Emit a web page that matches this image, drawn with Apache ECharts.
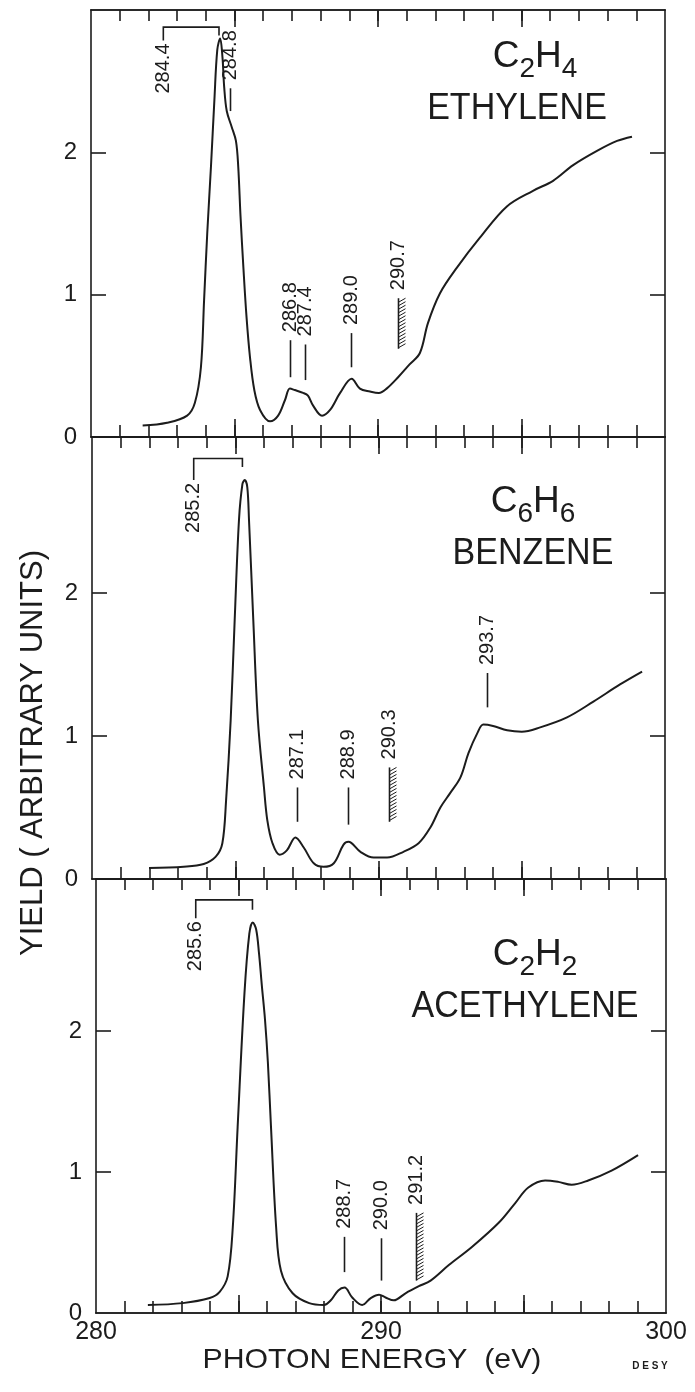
<!DOCTYPE html>
<html><head><meta charset="utf-8">
<script src="https://cdn.jsdelivr.net/npm/echarts@6/dist/echarts.min.js"></script>
<style>html,body{margin:0;padding:0;background:#fff}#c{width:695px;height:1392px}</style>
</head><body><div id="c"></div>
<script>
// ---------- DATA ----------
// C2H4 ethylene
const ethE = [281.8, 282.65, 283.35, 283.62, 283.83, 283.94, 284.05, 284.18, 284.30, 284.40, 284.5, 284.58, 284.64, 284.73, 284.9, 285.05, 285.13, 285.21, 285.31, 285.42, 285.54, 285.69, 285.89, 286.24, 286.52, 286.76, 286.93, 287.1, 287.39, 287.56, 287.74, 288.05, 288.33, 288.68, 289.08, 289.37, 289.72, 290.03, 290.3, 290.7, 291.1, 291.46, 291.74, 292.16, 292.75, 293.55, 294.49, 295.4, 296.1, 296.8, 297.63, 298.33, 298.85];
const ethY = [0.08, 0.10, 0.15, 0.24, 0.49, 0.96, 1.43, 1.90, 2.37, 2.72, 2.80, 2.67, 2.46, 2.29, 2.18, 2.08, 1.90, 1.55, 1.19, 0.84, 0.56, 0.33, 0.19, 0.11, 0.15, 0.26, 0.34, 0.33, 0.31, 0.29, 0.22, 0.15, 0.19, 0.31, 0.41, 0.34, 0.32, 0.31, 0.34, 0.42, 0.51, 0.59, 0.80, 1.01, 1.19, 1.40, 1.62, 1.73, 1.80, 1.91, 2.01, 2.08, 2.11];
const ethMarkText = ['284.8', '286.8', '287.4', '289.0', '290.7'];
const ethMarkE = [284.85, 286.93, 287.46, 289.07, 290.7];
const ethMarkLo = [2.29, 0.42, 0.40, 0.49, 0.62];
const ethMarkHi = [2.45, 0.68, 0.65, 0.73, 0.975];
const ethMarkKind = ['line', 'line', 'line', 'line', 'hatch'];
const ethBracketText = ['284.4'];
const ethBracket = [[282.52, 284.46, 2.88, 2.786, 2.82]];

// C6H6 benzene
const benE = [281.99, 283.2, 283.9, 284.32, 284.55, 284.68, 284.84, 284.98, 285.13, 285.25, 285.33, 285.42, 285.48, 285.63, 285.79, 286.0, 286.12, 286.3, 286.55, 286.8, 287.1, 287.39, 287.74, 288.08, 288.44, 288.78, 288.95, 289.37, 289.83, 290.3, 290.87, 291.4, 291.81, 292.16, 292.5, 292.86, 293.14, 293.45, 293.66, 294.0, 294.49, 295.0, 295.64, 296.58, 297.5, 298.43, 299.2];
const benY = [0.077, 0.086, 0.105, 0.156, 0.25, 0.55, 1.11, 1.81, 2.51, 2.76, 2.79, 2.74, 2.51, 1.81, 1.11, 0.645, 0.41, 0.25, 0.17, 0.20, 0.29, 0.22, 0.11, 0.085, 0.11, 0.24, 0.26, 0.19, 0.15, 0.15, 0.19, 0.25, 0.36, 0.50, 0.60, 0.71, 0.88, 1.02, 1.08, 1.07, 1.04, 1.03, 1.06, 1.13, 1.24, 1.36, 1.45];
const benMarkText = ['287.1', '288.9', '290.3', '293.7'];
const benMarkE = [287.17, 288.95, 290.38, 293.8];
const benMarkLo = [0.40, 0.38, 0.40, 1.20];
const benMarkHi = [0.64, 0.64, 0.78, 1.44];
const benMarkKind = ['line', 'line', 'hatch', 'line'];
const benBracketText = ['285.2'];
const benBracket = [[283.55, 285.25, 2.94, 2.79, 2.88]];

// C2H2 acethylene
const aceE = [281.82, 283.04, 283.99, 284.34, 284.62, 284.8, 284.97, 285.21, 285.38, 285.5, 285.62, 285.72, 285.82, 285.93, 286.03, 286.14, 286.32, 286.49, 286.9, 287.48, 288.0, 288.24, 288.5, 288.72, 288.99, 289.34, 289.64, 289.93, 290.16, 290.45, 290.86, 291.33, 291.74, 292.38, 293.2, 294.13, 294.71, 295.17, 295.76, 296.22, 296.69, 297.27, 298.09, 299.02];
const aceY = [0.057, 0.07, 0.106, 0.15, 0.26, 0.61, 1.32, 2.27, 2.69, 2.77, 2.72, 2.55, 2.32, 2.08, 1.78, 1.32, 0.61, 0.30, 0.14, 0.07, 0.057, 0.09, 0.16, 0.18, 0.11, 0.057, 0.106, 0.13, 0.11, 0.09, 0.14, 0.19, 0.23, 0.34, 0.47, 0.64, 0.78, 0.89, 0.94, 0.93, 0.91, 0.94, 1.01, 1.12];
const aceMarkText = ['288.7', '290.0', '291.2'];
const aceMarkE = [288.7, 290.0, 291.22];
const aceMarkLo = [0.29, 0.23, 0.23];
const aceMarkHi = [0.54, 0.53, 0.71];
const aceMarkKind = ['line', 'line', 'hatch'];
const aceBracketText = ['285.6'];
const aceBracket = [[283.5, 285.49, 2.93, 2.80, 2.86]];

// axis ticks / labels
const xMinorTicks = [281, 282, 283, 284, 285, 286, 287, 288, 289, 290, 291, 292, 293, 294, 295, 296, 297, 298, 299];
const xMajorTicks = [285, 290, 295];
const xTickLabels = [280, 290, 300];
const yTicks = [1, 2];
const yTickLabels = [0, 1, 2];
const yMax = [3, 3.09, 3.078];

// ---------- LAYOUT / STYLE ----------
const FONT = '"Liberation Sans", Arial, sans-serif';
const INK = '#1c1c1c';
const grids = [
  {left: 91, top: 10, width: 574, height: 427},
  {left: 92, top: 437, width: 573, height: 442},
  {left: 96, top: 879, width: 570, height: 434}
];

const xAxis = [], yAxis = [];
grids.forEach((g, gi) => {
  ['bottom', 'top'].forEach(pos => {
    [false, true].forEach(major => {
      xAxis.push({
        type: 'value', gridIndex: gi, position: pos, min: 280, max: 300,
        axisLine: {show: true, onZero: false, lineStyle: {color: INK, width: 1.6}},
        axisTick: {show: true, inside: true, length: major ? (pos === 'bottom' ? 18 : 17) : (pos === 'bottom' ? 12 : 11),
          customValues: major ? xMajorTicks : xMinorTicks, lineStyle: {color: INK, width: 1.6}},
        axisLabel: {show: gi === 2 && pos === 'bottom' && !major, customValues: xTickLabels,
          fontSize: 25, color: INK, fontFamily: FONT, margin: 7},
        splitLine: {show: false}
      });
    });
  });
  ['left', 'right'].forEach(pos => {
    yAxis.push({
      type: 'value', gridIndex: gi, position: pos, min: 0, max: yMax[gi],
      axisLine: {show: true, onZero: false, lineStyle: {color: INK, width: 1.6}},
      axisTick: {show: true, inside: true, length: 15, customValues: yTicks, lineStyle: {color: INK, width: 1.6}},
      axisLabel: {show: pos === 'left', customValues: yTickLabels, fontSize: 24, color: INK, fontFamily: FONT, margin: 14},
      splitLine: {show: false}
    });
  });
});

function markRenderer(texts, kinds) {
  return function (params, api) {
    const i = api.value(3);
    const top = api.coord([api.value(0), api.value(2)]);
    const bot = api.coord([api.value(0), api.value(1)]);
    const x = Math.round(top[0]) + 0.5;
    const children = [{type: 'line', shape: {x1: x, y1: top[1], x2: x, y2: bot[1]}, style: {stroke: INK, lineWidth: 1.6}}];
    if (kinds[i] === 'hatch') {
      for (let y = top[1] + 4; y <= bot[1] + 0.5; y += 3.5) {
        children.push({type: 'line', shape: {x1: x, y1: y, x2: x + 7, y2: y - 4}, style: {stroke: INK, lineWidth: 1}});
      }
    }
    children.push({type: 'text', x: x, y: top[1] - 8, rotation: Math.PI / 2,
      style: {text: texts[i], fill: INK, font: '20px ' + FONT, textAlign: 'left', textVerticalAlign: 'middle'}});
    return {type: 'group', children};
  };
}
function bracketRenderer(texts) {
  return function (params, api) {
    const i = params.dataIndex;
    const a = api.coord([api.value(0), api.value(2)]);
    const b = api.coord([api.value(1), api.value(2)]);
    const c = api.coord([api.value(0), api.value(3)]);
    const d = api.coord([api.value(1), api.value(4)]);
    return {type: 'group', children: [
      {type: 'polyline', shape: {points: [c, a, b, d]}, style: {stroke: INK, lineWidth: 1.6, fill: null}},
      {type: 'text', x: c[0], y: c[1] + 3, rotation: Math.PI / 2,
        style: {text: texts[i], fill: INK, font: '20px ' + FONT, textAlign: 'right', textVerticalAlign: 'middle'}}
    ]};
  };
}

const panels = [
  [ethE, ethY, ethMarkText, ethMarkE, ethMarkLo, ethMarkHi, ethMarkKind, ethBracketText, ethBracket],
  [benE, benY, benMarkText, benMarkE, benMarkLo, benMarkHi, benMarkKind, benBracketText, benBracket],
  [aceE, aceY, aceMarkText, aceMarkE, aceMarkLo, aceMarkHi, aceMarkKind, aceBracketText, aceBracket]
];
const series = [];
panels.forEach((p, gi) => {
  const [E, Y, mt, me, mlo, mhi, mk, bt, br] = p;
  series.push({type: 'line', xAxisIndex: gi * 4, yAxisIndex: gi * 2, data: E.map((e, i) => [e, Y[i]]),
    showSymbol: false, smooth: 0.35, lineStyle: {color: INK, width: 2}, silent: true});
  series.push({type: 'custom', xAxisIndex: gi * 4, yAxisIndex: gi * 2, renderItem: markRenderer(mt, mk),
    data: me.map((e, i) => [e, mlo[i], mhi[i], i]), encode: {x: 0, y: [1, 2]}, silent: true});
  series.push({type: 'custom', xAxisIndex: gi * 4, yAxisIndex: gi * 2, renderItem: bracketRenderer(bt),
    data: br, encode: {x: [0, 1], y: [2, 3, 4]}, silent: true});
});

// chemical formula with lowered, large subscripts
const measureCtx = document.createElement('canvas').getContext('2d');
function textW(t, size) { measureCtx.font = size + 'px ' + FONT; return measureCtx.measureText(t).width; }
function formula(cx, cy, parts) {
  const MAIN = 37, SUB = 28, DROP = 12.5;
  let total = 0;
  parts.forEach((p, i) => { total += textW(p, i % 2 ? SUB : MAIN); });
  let x = cx - total / 2;
  const els = [];
  parts.forEach((p, i) => {
    const size = i % 2 ? SUB : MAIN;
    els.push({type: 'text', x: x, y: cy + (i % 2 ? DROP : 0),
      style: {text: p, fill: INK, font: size + 'px ' + FONT, textAlign: 'left', textVerticalAlign: 'middle'}});
    x += textW(p, size);
  });
  return els;
}
function word(x, y, t) {
  return {type: 'text', x: x, y: y, scaleX: 0.92, style: {text: t, fill: INK, font: '37px ' + FONT, textAlign: 'center', textVerticalAlign: 'middle'}};
}

const graphic = [].concat(
  formula(535, 57, ['C', '2', 'H', '4']),
  [word(517, 109, 'ETHYLENE')],
  formula(533, 502, ['C', '6', 'H', '6']),
  [word(533, 554, 'BENZENE')],
  formula(535, 955, ['C', '2', 'H', '2']),
  [word(525, 1007, 'ACETHYLENE')],
  [
    {type: 'text', x: 33, y: 753, rotation: Math.PI / 2, style: {text: 'YIELD ( ARBITRARY UNITS)', fill: INK, font: '31px ' + FONT, textAlign: 'center', textVerticalAlign: 'middle'}},
    {type: 'text', x: 372, y: 1360, scaleX: 1.08, style: {text: 'PHOTON ENERGY  (eV)', fill: INK, font: '28px ' + FONT, textAlign: 'center', textVerticalAlign: 'middle'}},
    {type: 'text', x: 650, y: 1366, style: {text: 'D E S Y', fill: INK, font: 'bold 10px ' + FONT, textAlign: 'center', textVerticalAlign: 'middle'}}
  ]
);

const chart = echarts.init(document.getElementById('c'), null, {renderer: 'canvas'});
chart.setOption({
  backgroundColor: '#fff',
  animation: false,
  grid: grids,
  xAxis: xAxis,
  yAxis: yAxis,
  series: series,
  graphic: graphic
});
</script></body></html>
